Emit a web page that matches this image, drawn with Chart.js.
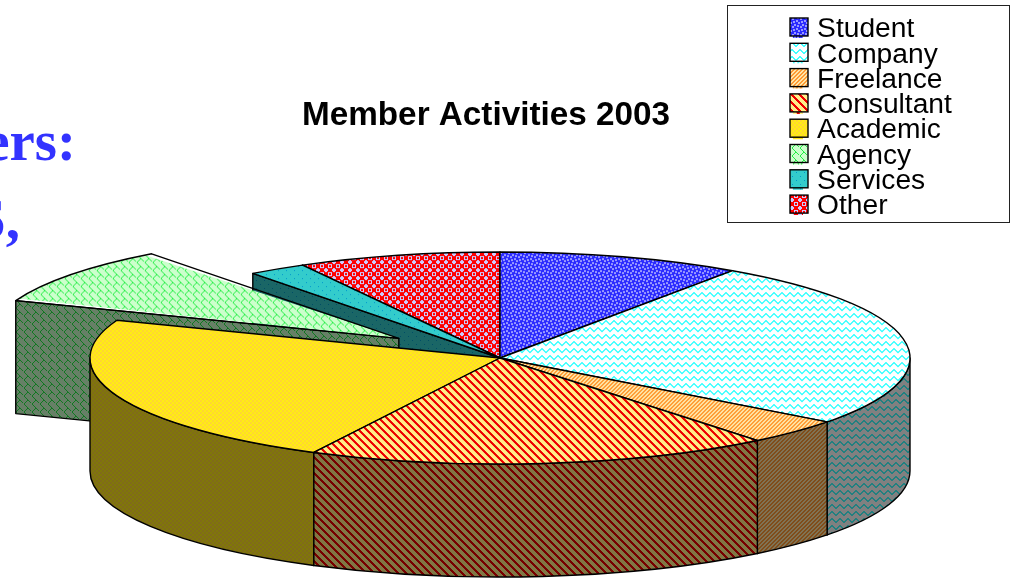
<!DOCTYPE html>
<html>
<head>
<meta charset="utf-8">
<style>
  html, body { margin: 0; background: #fff; }
</style>
<script src="https://cdn.jsdelivr.net/npm/chart.js@4/dist/chart.umd.min.js"></script>
</head>
<body>
<canvas id="chart" width="1013" height="578"></canvas>
<script>
const titleText = 'Member Activities 2003';
const categories = ['Student', 'Company', 'Freelance', 'Consultant', 'Academic', 'Agency', 'Services', 'Other'];
const shares = [9.6, 25.7, 3.9, 18.3, 23.3, 8.9, 2.3, 8.0];
const explodedCategory = 'Agency';
// back to front, the way the slices overlap in the picture
const paintOrder = ['Other', 'Services', 'Student', 'Company', 'Freelance', 'Agency', 'Academic', 'Consultant'];

// 3d look of the pie
const CX = 500, CY = 358, RX = 410, RY = 106, DEPTH = 113;
const SQUASH = RY / RX;
const EXPLODE = 506; // arc element moves by offset / 4

// fill patterns: [tile, foreground, background]
const fills = {
    Student: [['..##....', '..##.##.', '##...##.', '##......', '....##..', '.##.##..', '.##...##', '......##'], '#9999ff', '#2a2aff'],
    Company: [['#......#', '##....##', '.##..##.', '..####..', '...##...', '........', '........'], '#44ffff', '#ffffff'],
    Freelance: [['..##', '.##.', '##..', '#..#'], '#ff9a33', '#ffe6a8'],
    Consultant: [['###.....', '.###....', '..###...', '...###..', '....###.', '.....###', '#.....##', '##.....#'], '#ee0000', '#ffee88'],
    Academic: [['##..', '##..', '..##', '..##'], '#ffd633', '#ffee11'],
    Agency: [['...##...', '..#..#..', '.#....#.', '#.......', '#.......', '.#......', '..#.....', '...#....'], '#22ee44', '#ccffcc'],
    Services: [['#.......', '........', '........', '........', '....#...', '........', '........', '........'], '#0099cc', '#33cccc'],
    Other: [['##....##', '#......#', '..####..', '..#..#..', '..#..#..', '..####..', '#......#', '##....##'], '#ccccff', '#ff0000']
};

function shade(hex, k) {
    const n = parseInt(hex.slice(1), 16);
    return 'rgb(' + [n >> 16, (n >> 8) & 255, n & 255].map(v => Math.round(v * k)).join(',') + ')';
}

function makePattern(ctx, spec, k) {
    const [tile, fg, bg] = spec;
    const c = document.createElement('canvas');
    c.width = tile[0].length;
    c.height = tile.length;
    const g = c.getContext('2d');
    g.fillStyle = shade(bg, k);
    g.fillRect(0, 0, c.width, c.height);
    g.fillStyle = shade(fg, k);
    tile.forEach((row, y) => {
        for (let x = 0; x < row.length; x++) {
            if (row[x] === '#') g.fillRect(x, y, 1, 1);
        }
    });
    return ctx.createPattern(c, 'repeat');
}

const canvas = document.getElementById('chart');
const ctx = canvas.getContext('2d');

const flatFills = categories.map(name => makePattern(ctx, fills[name], 1));
const topFills = categories.map(name => {
    const p = makePattern(ctx, fills[name], 1);
    // the top is painted in squashed space, undo that for the tile
    p.setTransform(new DOMMatrix().scale(1, 1 / SQUASH));
    return p;
});
const wallFills = categories.map(name => makePattern(ctx, fills[name], 0.5));

function sliceCenter(arc) {
    const mid = (arc.startAngle + arc.endAngle) / 2;
    const d = (arc.options.offset || 0) / 4;
    return [CX + Math.cos(mid) * d, CY + Math.sin(mid) * d * SQUASH];
}

function paintWall(g, path, fill) {
    g.beginPath();
    path();
    g.closePath();
    g.fillStyle = fill;
    g.fill();
    g.stroke();
}

function drawWalls(g, arc, fill) {
    const [x, y] = sliceCenter(arc);
    const sides = [];
    if (Math.cos(arc.startAngle) < 0) sides.push(arc.startAngle);
    if (Math.cos(arc.endAngle) > 0) sides.push(arc.endAngle);
    sides.forEach(a => {
        const ex = x + Math.cos(a) * RX, ey = y + Math.sin(a) * RY;
        paintWall(g, () => {
            g.moveTo(x, y);
            g.lineTo(ex, ey);
            g.lineTo(ex, ey + DEPTH);
            g.lineTo(x, y + DEPTH);
        }, fill);
    });
    // only the front half of the rim can be seen
    const from = Math.max(arc.startAngle, 0), to = Math.min(arc.endAngle, Math.PI);
    if (from < to) {
        paintWall(g, () => {
            g.ellipse(x, y, RX, RY, 0, from, to);
            g.ellipse(x, y + DEPTH, RX, RY, 0, to, from, true);
        }, fill);
    }
}

function slicePath(g, arc) {
    const [x, y] = sliceCenter(arc);
    g.beginPath();
    g.moveTo(x, y);
    g.ellipse(x, y, RX, RY, 0, arc.startAngle, arc.endAngle);
    g.closePath();
}

const pie3d = {
    id: 'pie3d',
    afterLayout(chart) {
        // title and legend sit where the reference has them
        const t = chart.titleBlock;
        t.left = 302; t.right = 670; t.top = 96;
        const l = chart.legend;
        l.left = 792.9; l.top = 18.3;
    },
    beforeDraw(chart) {
        const g = chart.ctx;
        // bits of the slide text behind the chart
        g.save();
        g.fillStyle = '#3333ff';
        g.font = 'bold 57px "Liberation Serif"';
        g.textAlign = 'right';
        g.fillText('ers:', 76, 160);
        g.fillText('S,', 20, 238);
        g.restore();
    },
    beforeDatasetDraw(chart) {
        const g = chart.ctx;
        const arcs = chart.getDatasetMeta(0).data;
        g.save();
        g.strokeStyle = '#000';
        g.lineWidth = 1.4;
        g.lineJoin = 'round';
        paintOrder.forEach(name => {
            const i = categories.indexOf(name);
            const arc = arcs[i];
            drawWalls(g, arc, wallFills[i]);

            // an offset arc also grows by its offset, so cut it back to the rim
            g.save();
            slicePath(g, arc);
            g.clip();
            g.translate(CX - arc.x, CY - arc.y * SQUASH);
            g.scale(1, SQUASH);
            arc.draw(g);
            g.restore();

            slicePath(g, arc);
            g.stroke();
        });
        g.restore();
        return false;
    },
    afterDraw(chart) {
        const g = chart.ctx;
        g.save();
        g.strokeStyle = '#222';
        g.lineWidth = 1;
        g.strokeRect(727.5, 5.5, 282, 217);
        g.lineWidth = 1.4;
        g.strokeStyle = '#000';
        categories.forEach((name, i) => {
            const y = 18 + i * 25.3;
            g.fillStyle = flatFills[i];
            g.fillRect(790, y, 18, 18);
            g.strokeRect(790, y, 18, 18);
        });
        g.restore();
    }
};

new Chart(canvas, {
    type: 'pie',
    data: {
        labels: categories,
        datasets: [{
            data: shares,
            backgroundColor: topFills,
            borderWidth: 0,
            radius: RX,
            offset: c => categories[c.dataIndex] === explodedCategory ? EXPLODE : 0
        }]
    },
    options: {
        responsive: false,
        animation: false,
        events: [],
        plugins: {
            title: {
                display: true,
                text: titleText,
                color: '#000',
                padding: 0,
                font: { family: '"Liberation Sans"', size: 33.3, weight: 'bold' }
            },
            legend: {
                position: 'right',
                align: 'start',
                labels: {
                    color: '#000',
                    boxWidth: 13,
                    boxHeight: 17,
                    padding: -2.9,
                    font: { family: '"Liberation Sans"', size: 28.2 }
                }
            },
            tooltip: { enabled: false }
        }
    },
    plugins: [pie3d]
});
</script>
</body>
</html>
